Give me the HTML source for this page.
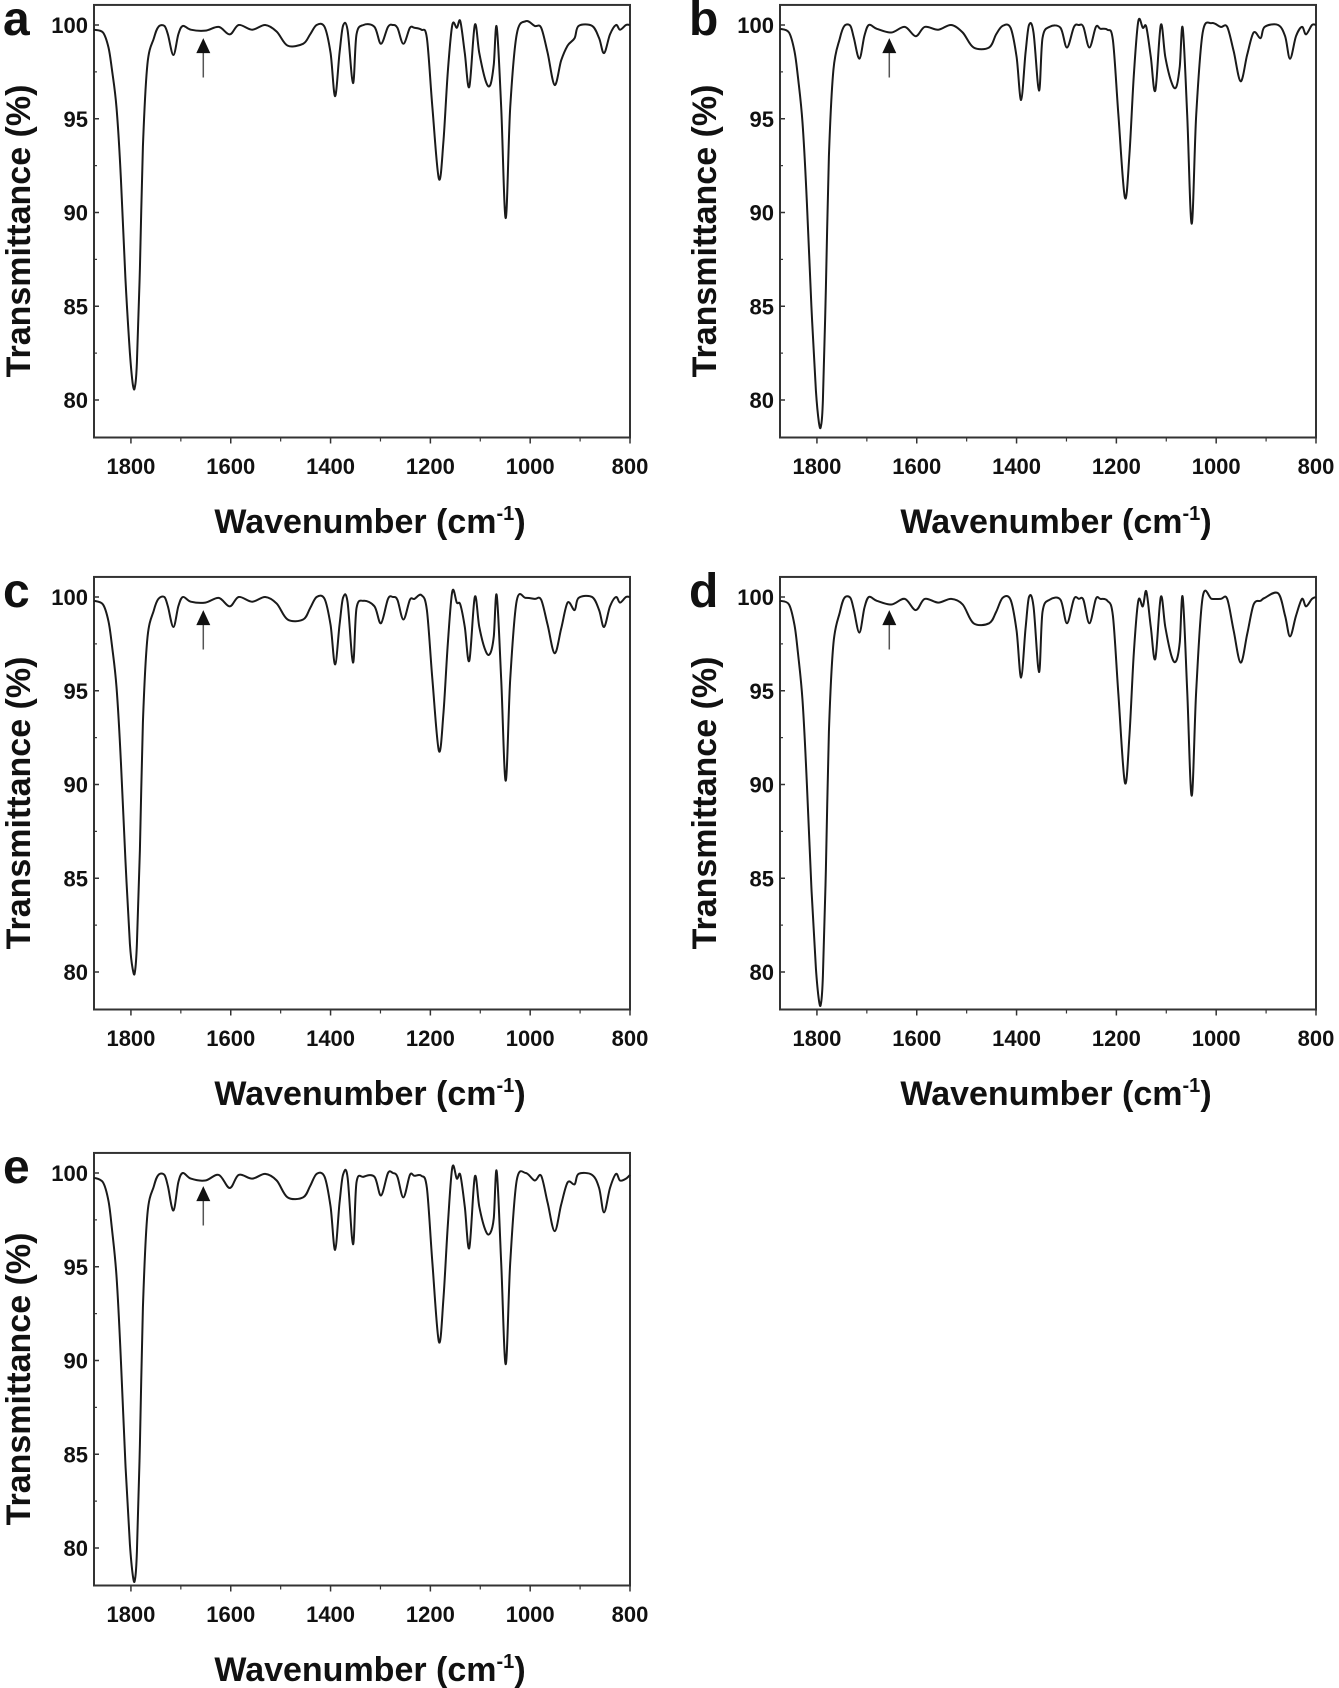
<!DOCTYPE html>
<html><head><meta charset="utf-8"><style>
html,body{margin:0;padding:0;background:#fff;}
svg{display:block;}
text{font-family:"Liberation Sans",Arial,sans-serif;font-weight:bold;fill:#111;}
</style></head><body>
<svg id="fig" width="1339" height="1688" viewBox="0 0 1339 1688" xmlns="http://www.w3.org/2000/svg"></svg>
<script>
const wavenumbers = [1874,1856,1845,1838,1829,1820,1811,1802,1796,1792,
1788,1782,1776,1767,1754,1745,1733,1726,1715,1705,
1696,1680,1651,1624,1602,1584,1557,1531,1508,1486,
1455,1441,1428,1412,1400,1391,1382,1375,1366,1355,
1348,1334,1312,1299,1285,1275,1266,1254,1241,1232,
1218,1207,1196,1183,1174,1165,1156,1147,1140,1131,
1122,1111,1102,1089,1080,1073,1067,1058,1049,1040,
1027,1009,991,978,965,951,938,925,911,903,
876,862,852,840,828,820,808,800];
const valuesA = [99.75,99.6,98.8,97.6,95.6,91.8,86.5,82.5,80.8,80.7,
82,87,93.5,97.9,99.3,99.9,99.95,99.5,98.4,99.5,
99.95,99.75,99.7,99.9,99.5,100,99.75,100,99.65,98.9,
99.0,99.5,100,99.9,98.5,96.2,98.5,99.95,99.75,96.9,
99.5,100,99.9,99.0,99.9,100,99.85,99.0,99.85,99.85,
99.75,99.3,95.6,91.8,93.7,97.5,100,99.85,100.2,98.5,
96.7,100,98.5,97.0,96.8,97.9,99.9,95.6,89.7,95.6,
99.5,100.2,99.95,99.85,98.5,96.8,98.1,98.9,99.3,99.95,
99.95,99.3,98.5,99.5,100,99.75,100,100];
const valuesB = [99.8,99.6,98.6,97.2,94.8,90.5,85,80.5,78.8,78.6,
80,86,93,97.6,99.3,99.95,99.95,99.3,98.2,99.4,
100,99.8,99.6,99.9,99.4,99.9,99.75,100,99.6,98.8,
98.8,99.5,99.95,99.85,98.3,96.0,98.5,100,99.6,96.5,
99.3,99.9,99.85,98.8,99.9,100,99.9,98.8,99.9,99.8,
99.75,99.2,95.2,90.8,93.0,97.3,100.2,99.85,99.9,98.3,
96.5,100,98.3,96.9,96.7,97.8,99.85,95.2,89.4,95.2,
99.6,100.1,99.9,99.9,98.6,97.0,98.4,99.6,99.3,99.9,
100,99.4,98.2,99.4,99.9,99.5,100,100];
const valuesC = [99.8,99.6,98.7,97.4,95.2,91.2,86,81.5,80.1,80.0,
81.5,86.5,93.3,97.8,99.3,99.9,100,99.5,98.4,99.5,
100,99.75,99.7,99.95,99.5,100,99.75,100,99.65,98.8,
98.8,99.4,100,99.9,98.5,96.4,98.5,99.95,99.75,96.5,
99.4,99.8,99.5,98.6,99.9,100,99.85,98.8,99.85,99.9,
100.1,99.3,95.6,91.8,93.7,97.5,100.3,99.7,99.6,98.4,
96.6,100,98.4,97.1,97.0,97.9,100.1,95.6,90.2,95.6,
99.8,99.95,99.9,99.85,98.5,97.0,98.3,99.7,99.3,99.95,
100,99.3,98.4,99.5,100,99.7,100,100];
const valuesD = [99.8,99.6,98.5,97.0,94.5,90.0,84.5,80.2,78.5,78.3,
79.8,85.5,92.8,97.5,99.2,99.95,99.95,99.3,98.1,99.4,
100,99.8,99.6,99.9,99.3,99.9,99.7,99.9,99.6,98.6,
98.6,99.2,99.95,99.85,98.2,95.7,98.3,100,99.5,96.0,
99.2,99.85,99.85,98.6,99.9,99.9,99.85,98.6,99.9,99.9,
99.8,99.0,94.8,90.1,92.5,97.0,99.8,99.5,100.3,98.4,
96.7,100,98.4,96.8,96.6,97.6,100,95.0,89.4,95.0,
100,99.9,99.9,99.9,98.2,96.5,98.0,99.6,99.8,99.95,
100.2,99.0,97.9,99.0,99.9,99.5,99.9,100];
const valuesE = [99.75,99.5,98.5,97.0,94.5,90.0,84.5,80.2,78.5,78.3,
79.8,85.5,92.8,97.8,99.3,99.9,99.9,99.3,98.0,99.5,
100,99.7,99.6,99.9,99.2,99.9,99.7,99.95,99.6,98.7,
98.7,99.3,99.95,99.8,98.2,95.9,98.4,99.9,99.8,96.2,
99.5,99.8,99.8,98.8,100,100,99.8,98.7,99.9,99.85,
99.85,99.2,95.2,91.0,93.2,97.2,100.3,99.7,99.9,98.2,
96.0,99.8,98.2,96.9,96.8,97.6,100.1,95.2,89.8,95.2,
99.6,100,99.6,99.85,98.4,96.9,98.3,99.5,99.4,99.95,
99.9,99.2,97.9,99.2,99.95,99.6,99.7,99.9];
const xTicks = [1800,1600,1400,1200,1000,800];
const xMinorTicks = [1700,1500,1300,1100,900];
const yTicks = [80,85,90,95,100];
const yMinorTicks = [82.5,87.5,92.5,97.5];
const panelLetters = ['a','b','c','d','e'];
const panelSeries = [valuesA,valuesB,valuesC,valuesD,valuesE];
const arrowWavenumber = 1655;

const NS='http://www.w3.org/2000/svg';
const svg=document.getElementById('fig');
const panelOrigins=[[94,25],[780,25],[94,597],[780,597],[94,1173]];
const X_MAX=1874,X_MIN=800,Y_TOP=101.07,Y_BOT=78,BW=536,PXU=18.75;
function mk(tag,attrs,parent){const e=document.createElementNS(NS,tag);for(const k in attrs)e.setAttribute(k,attrs[k]);(parent||svg).appendChild(e);return e;}

panelSeries.forEach((vals,pi)=>{
  const [x0,y100]=panelOrigins[pi];
  const xs=w=>x0+(X_MAX-w)*BW/(X_MAX-X_MIN);
  const ys=v=>y100+(100-v)*PXU;
  const g=mk('g',{});
  
  
  const top=ys(Y_TOP),bot=ys(Y_BOT);
  const frame=mk('rect',{x:x0,y:top,width:BW,height:bot-top,fill:'none',stroke:'#333','stroke-width':2},g);
  
  
  yTicks.forEach(t=>{
    mk('line',{x1:x0,x2:x0+5,y1:ys(t),y2:ys(t),stroke:'#333','stroke-width':1.5},g);
    const tl=mk('text',{x:x0-6,y:ys(t)+8,'font-size':22,'text-anchor':'end'},g);
    tl.textContent=t;
    
    
  });
  yMinorTicks.forEach(t=>mk('line',{x1:x0,x2:x0+3,y1:ys(t),y2:ys(t),stroke:'#333','stroke-width':1.2},g));
  xTicks.forEach(t=>{
    mk('line',{x1:xs(t),x2:xs(t),y1:bot,y2:bot+6,stroke:'#333','stroke-width':1.5},g);
    const tl=mk('text',{x:xs(t),y:y100+449,'font-size':22,'text-anchor':'middle'},g);
    tl.textContent=t;
    
    
  });
  xMinorTicks.forEach(t=>mk('line',{x1:xs(t),x2:xs(t),y1:bot,y2:bot+4,stroke:'#333','stroke-width':1.2},g));
  const xt=mk('text',{x:x0+276,y:y100+508,'font-size':34,'text-anchor':'middle'},g);
  xt.innerHTML='Wavenumber (cm<tspan dy="-13" font-size="20">-1</tspan><tspan dy="13">)</tspan>';
  
  
  const yt=mk('text',{x:0,y:0,'font-size':34,'text-anchor':'middle',transform:`translate(${x0-64},${y100+206}) rotate(-90)`},g);
  yt.textContent='Transmittance (%)';
  
  
  const lt=mk('text',{x:x0-91,y:y100+10,'font-size':48,'text-anchor':'start'},g);
  lt.textContent=panelLetters[pi];
  
  
  const P=wavenumbers.map((w,i)=>[xs(w),ys(vals[i])]);
  let d='M'+P[0][0].toFixed(1)+','+P[0][1].toFixed(1);
  for(let i=0;i<P.length-1;i++){
    const p0=P[Math.max(i-1,0)],p1=P[i],p2=P[i+1],p3=P[Math.min(i+2,P.length-1)];
    const c1=[p1[0]+(p2[0]-p0[0])/6,p1[1]+(p2[1]-p0[1])/6];
    const c2=[p2[0]-(p3[0]-p1[0])/6,p2[1]-(p3[1]-p1[1])/6];
    d+=`C${c1[0].toFixed(1)},${c1[1].toFixed(1)} ${c2[0].toFixed(1)},${c2[1].toFixed(1)} ${p2[0].toFixed(1)},${p2[1].toFixed(1)}`;
  }
  const line=mk('path',{d:d,fill:'none',stroke:'#1a1a1a','stroke-width':2,'stroke-linejoin':'round'},g);
  
  
  const ax=xs(arrowWavenumber);
  const ag=mk('g',{},g);
  
  
  mk('line',{x1:ax,x2:ax,y1:ys(97.2),y2:ys(98.6),stroke:'#555','stroke-width':1.5},ag);
  mk('polygon',{points:`${ax-7},${ys(98.5)} ${ax+7},${ys(98.5)} ${ax},${ys(99.3)}`,fill:'#111'},ag);
});
</script>
</body></html>
